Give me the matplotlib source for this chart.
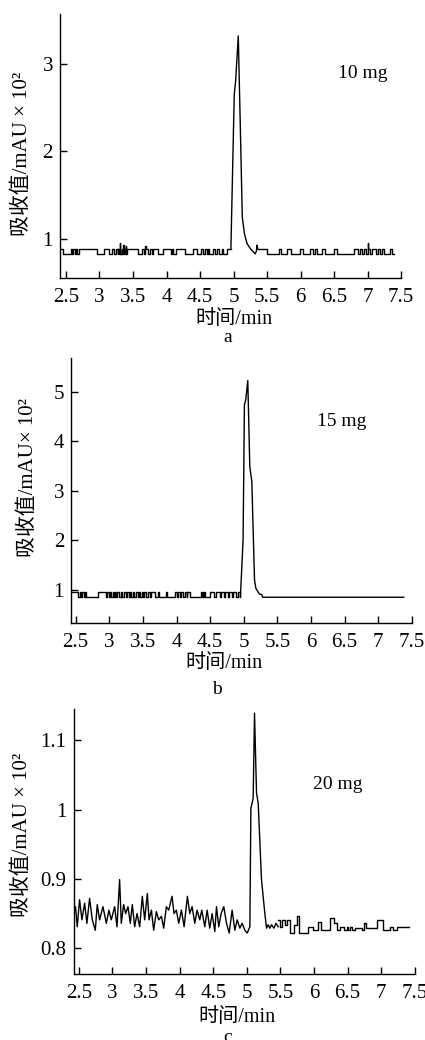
import matplotlib
matplotlib.use("Agg")
import matplotlib.pyplot as plt

plt.rcParams['font.family'] = ['Liberation Serif', 'Noto Sans CJK SC']

# x ticks shared by all panels
x_ticks = [2.5, 3, 3.5, 4, 4.5, 5, 5.5, 6, 6.5, 7, 7.5]
x_tick_labels = ["2.5", "3", "3.5", "4", "4.5", "5", "5.5", "6", "6.5", "7", "7.5"]

# ---- panel a: 10 mg ----
a_base_t = [2.42, 2.46, 2.57, 2.59, 2.61, 2.63, 2.65, 2.67, 2.70, 2.96, 3.06, 3.14, 3.18, 3.22,
            3.25, 3.27, 3.28, 3.29, 3.30, 3.31, 3.33, 3.34, 3.35, 3.36, 3.37, 3.38, 3.39, 3.40,
            3.41, 3.57, 3.63, 3.67, 3.68, 3.70, 3.72, 3.75, 3.78, 3.80, 3.88, 3.94, 4.06, 4.08,
            4.10, 4.14, 4.28, 4.40, 4.46, 4.52, 4.54, 4.58, 4.60, 4.62, 4.64, 4.70, 4.72, 4.76,
            4.78, 4.82, 4.84, 4.90, 4.96]
a_base_v = [0.89, 0.83, 0.89, 0.83, 0.89, 0.83, 0.89, 0.83, 0.89, 0.83, 0.89, 0.83, 0.89, 0.83,
            0.89, 0.83, 0.89, 0.83, 0.95, 0.83, 0.89, 0.83, 0.93, 0.83, 0.89, 0.83, 0.92, 0.83,
            0.89, 0.83, 0.89, 0.83, 0.92, 0.89, 0.83, 0.89, 0.83, 0.89, 0.83, 0.89, 0.83, 0.89,
            0.83, 0.89, 0.83, 0.89, 0.83, 0.89, 0.83, 0.89, 0.83, 0.89, 0.83, 0.89, 0.83, 0.89,
            0.83, 0.89, 0.83, 0.89, 0.89]
a_peak_t = [4.96, 5.01, 5.03, 5.07, 5.10, 5.13, 5.16, 5.20, 5.25, 5.30, 5.32, 5.34, 5.35, 5.36]
a_peak_v = [0.89, 2.65, 2.80, 3.32, 2.30, 1.25, 1.07, 0.95, 0.89, 0.85, 0.83, 0.86, 0.93, 0.89]
a_tail_t = [5.36, 5.50, 5.67, 5.70, 5.80, 5.85, 5.99, 6.04, 6.14, 6.19, 6.22, 6.25, 6.32, 6.37,
            6.50, 6.54, 6.80, 6.85, 6.88, 6.92, 6.95, 6.98, 7.00, 7.01, 7.04, 7.07, 7.13, 7.15,
            7.19, 7.21, 7.25, 7.33, 7.36, 7.39]
a_tail_v = [0.89, 0.83, 0.89, 0.83, 0.89, 0.83, 0.89, 0.83, 0.89, 0.83, 0.89, 0.83, 0.89, 0.83,
            0.89, 0.83, 0.89, 0.83, 0.89, 0.83, 0.89, 0.83, 0.95, 0.89, 0.83, 0.89, 0.83, 0.89,
            0.83, 0.89, 0.83, 0.89, 0.83, 0.83]

# ---- panel b: 15 mg ----
b_base_t = [2.43, 2.53, 2.56, 2.58, 2.60, 2.62, 2.64, 2.66, 2.83, 2.95, 2.97, 2.99, 3.01, 3.03,
            3.05, 3.07, 3.08, 3.10, 3.12, 3.14, 3.17, 3.19, 3.22, 3.25, 3.27, 3.29, 3.31, 3.33,
            3.35, 3.37, 3.39, 3.42, 3.44, 3.46, 3.48, 3.50, 3.52, 3.55, 3.57, 3.60, 3.62, 3.68,
            3.72, 3.74, 3.84, 3.86, 3.98, 4.00, 4.02, 4.05, 4.07, 4.09, 4.13, 4.15, 4.16, 4.20,
            4.37, 4.38, 4.39, 4.40, 4.41, 4.42, 4.50, 4.56, 4.58, 4.64, 4.66, 4.70, 4.72, 4.76,
            4.78, 4.82, 4.84, 4.88, 4.92, 4.94, 4.95]
b_base_v = [0.96, 0.85, 0.95, 0.85, 0.95, 0.85, 0.95, 0.85, 0.95, 0.85, 0.95, 0.85, 0.95, 0.85,
            0.95, 0.85, 0.95, 0.85, 0.95, 0.85, 0.95, 0.85, 0.95, 0.85, 0.95, 0.85, 0.95, 0.85,
            0.95, 0.85, 0.95, 0.85, 0.95, 0.85, 0.95, 0.85, 0.95, 0.85, 0.95, 0.85, 0.95, 0.85,
            0.95, 0.85, 0.95, 0.85, 0.95, 0.85, 0.95, 0.85, 0.95, 0.85, 0.95, 0.85, 0.95, 0.85,
            0.95, 0.85, 0.95, 0.85, 0.95, 0.85, 0.95, 0.85, 0.95, 0.85, 0.95, 0.85, 0.95, 0.85,
            0.95, 0.85, 0.95, 0.85, 0.95, 0.85, 0.85]
b_peak_t = [4.95, 4.99, 5.01, 5.03, 5.06, 5.09, 5.12, 5.16, 5.18, 5.23, 5.27, 5.28, 7.38]
b_peak_v = [0.85, 2.01, 4.74, 4.84, 5.23, 3.49, 3.19, 1.20, 1.03, 0.92, 0.90, 0.85, 0.85]

# ---- panel c: 20 mg ----
c_line_t = [2.420, 2.450, 2.475, 2.510, 2.545, 2.585, 2.619, 2.659, 2.699, 2.744, 2.773, 2.808,
            2.858, 2.908, 2.947, 2.982, 3.032, 3.067, 3.106, 3.131, 3.166, 3.196, 3.231, 3.265,
            3.295, 3.330, 3.365, 3.405, 3.444, 3.479, 3.519, 3.544, 3.579, 3.613, 3.653, 3.688,
            3.728, 3.762, 3.802, 3.837, 3.887, 3.916, 3.951, 3.986, 4.026, 4.066, 4.115, 4.150,
            4.185, 4.225, 4.259, 4.299, 4.329, 4.374, 4.409, 4.448, 4.483, 4.523, 4.548, 4.582,
            4.617, 4.657, 4.697, 4.737, 4.781, 4.821, 4.856, 4.896, 4.930, 4.970, 5.005, 5.045,
            5.060, 5.094, 5.114, 5.144, 5.169, 5.218, 5.268, 5.293, 5.318, 5.343, 5.368, 5.403,
            5.433, 5.467]
c_line_v = [0.846, 0.860, 0.831, 0.870, 0.841, 0.865, 0.836, 0.872, 0.841, 0.826, 0.863, 0.841,
            0.860, 0.836, 0.855, 0.841, 0.860, 0.831, 0.899, 0.836, 0.863, 0.850, 0.860, 0.836,
            0.863, 0.831, 0.850, 0.831, 0.875, 0.841, 0.879, 0.841, 0.855, 0.826, 0.853, 0.841,
            0.846, 0.829, 0.860, 0.855, 0.875, 0.850, 0.855, 0.836, 0.855, 0.831, 0.875, 0.850,
            0.860, 0.836, 0.855, 0.841, 0.855, 0.831, 0.855, 0.829, 0.850, 0.824, 0.860, 0.831,
            0.850, 0.860, 0.836, 0.822, 0.855, 0.826, 0.841, 0.829, 0.836, 0.826, 0.822, 0.831,
            1.002, 1.016, 1.139, 1.024, 1.009, 0.899, 0.850, 0.829, 0.834, 0.829, 0.834, 0.829,
            0.836, 0.831]
c_tail_t = [5.467, 5.50, 5.53, 5.57, 5.60, 5.64, 5.70, 5.74, 5.78, 5.91, 5.99, 6.06, 6.10, 6.24,
            6.29, 6.34, 6.39, 6.44, 6.49, 6.51, 6.54, 6.56, 6.61, 6.71, 6.74, 6.78, 6.93, 7.03,
            7.13, 7.18, 7.23, 7.41]
c_tail_v = [0.841, 0.831, 0.841, 0.834, 0.841, 0.822, 0.834, 0.846, 0.822, 0.831, 0.826, 0.838,
            0.826, 0.843, 0.836, 0.826, 0.831, 0.826, 0.831, 0.826, 0.831, 0.826, 0.829, 0.826,
            0.836, 0.829, 0.841, 0.826, 0.831, 0.826, 0.831, 0.831]

fig = plt.figure(figsize=(4.25, 10.4), dpi=100)

ax_a = fig.add_axes([0.141, 0.7327, 0.803, 0.2538])
ax_b = fig.add_axes([0.167, 0.401, 0.802, 0.255])
ax_c = fig.add_axes([0.173, 0.0635, 0.803, 0.2548])

lw = 1.0
ax_a.plot(a_base_t, a_base_v, color='black', lw=lw, drawstyle='steps-post')
ax_a.plot(a_peak_t, a_peak_v, color='black', lw=lw)
ax_a.plot(a_tail_t, a_tail_v, color='black', lw=lw, drawstyle='steps-post')

ax_b.plot(b_base_t, b_base_v, color='black', lw=lw, drawstyle='steps-post')
ax_b.plot(b_peak_t, b_peak_v, color='black', lw=lw)

ax_c.plot(c_line_t, c_line_v, color='black', lw=lw)
ax_c.plot(c_tail_t, c_tail_v, color='black', lw=lw, drawstyle='steps-post')

ax_a.set_xlim(2.41, 7.5)
ax_a.set_ylim(0.555, 3.57)
ax_a.set_yticks([1, 2, 3])
ax_a.set_yticklabels(["1", "2", "3"])

ax_b.set_xlim(2.43, 7.5)
ax_b.set_ylim(0.33, 5.69)
ax_b.set_yticks([1, 2, 3, 4, 5])
ax_b.set_yticklabels(["1", "2", "3", "4", "5"])

ax_c.set_xlim(2.42, 7.5)
ax_c.set_ylim(0.763, 1.145)
ax_c.set_yticks([0.8, 0.9, 1.0, 1.1])
ax_c.set_yticklabels(["0.8", "0.9", "1", "1.1"])

ylabels = ["吸收值/mAU × 10²", "吸收值/mAU× 10²", "吸收值/mAU × 10²"]
ylabel_pos = [(-0.111, 0.47), (-0.126, 0.55), (-0.149, 0.525)]
xlabel_pos = [(0.51, -0.159), (0.449, -0.151), (0.479, -0.166)]

for ax, yl, yp, xp in zip([ax_a, ax_b, ax_c], ylabels, ylabel_pos, xlabel_pos):
    for s in ['top', 'right']:
        ax.spines[s].set_visible(False)
    for s in ['left', 'bottom']:
        ax.spines[s].set_linewidth(1.0)
    ax.set_xticks(x_ticks)
    ax.set_xticklabels(x_tick_labels)
    ax.tick_params(axis='x', direction='in', length=5, width=1, pad=7, labelsize=15)
    ax.tick_params(axis='y', direction='in', length=5, width=1, pad=5, labelsize=15)
    ax.set_xlabel("时间/min", fontsize=14.5)
    ax.xaxis.set_label_coords(*xp)
    ax.xaxis.label.set_va('center')
    ax.set_ylabel(yl, fontsize=15)
    ax.yaxis.set_label_coords(*yp)
    ax.yaxis.label.set_va('center')

ax_a.text(6.56, 2.84, "10 mg", fontsize=14, ha='left', va='baseline')
ax_b.text(6.09, 4.31, "15 mg", fontsize=14, ha='left', va='baseline')
ax_c.text(5.98, 1.030, "20 mg", fontsize=14, ha='left', va='baseline')

fig.text(228 / 425, 1 - 337 / 1040, "a", fontsize=14, ha='center', va='center')
fig.text(217 / 425, 1 - 690 / 1040, "b", fontsize=14, ha='center', va='center')
fig.text(228 / 425, 1 - 1038 / 1040, "c", fontsize=14, ha='center', va='center')

fig.savefig("out.png", dpi=100)
